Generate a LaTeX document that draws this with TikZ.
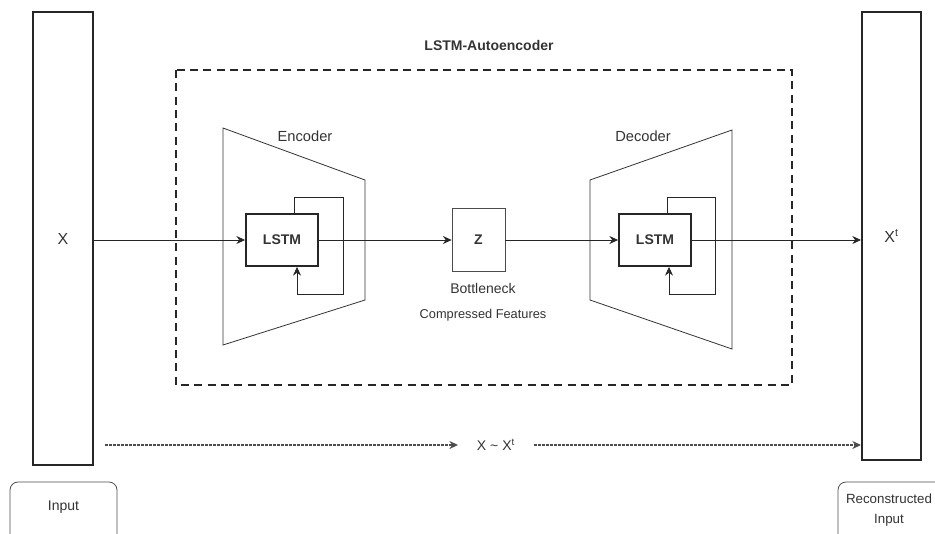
\documentclass[tikz,border=0pt]{standalone}
\usepackage{fontspec}
\setmainfont{Liberation Sans}
\usetikzlibrary{arrows.meta}
\definecolor{txtgray}{HTML}{333333}

\begin{document}
\begin{tikzpicture}[x=0.75pt, y=-0.75pt,
		every node/.style={text=txtgray, font=\fontsize{10.5}{12}\selectfont},
		column/.style={draw=black!85, line width=1.5pt, inner sep=0pt, font=\fontsize{12}{14}\selectfont},
		cell/.style={draw=black!85, line width=1.4pt, inner sep=0pt, minimum width=54pt, minimum height=39pt, font=\bfseries\fontsize{10.5}{12}\selectfont},
		arr/.style={-{Stealth[length=6.5pt,width=6pt]}, line width=0.6pt, draw=black!85},
		dotarr/.style={-{Stealth[length=6.5pt,width=6pt]}, draw=black!70, line width=1pt, dash pattern=on 2pt off 1pt}]
		\useasboundingbox (0,0) rectangle (935,533);
		\node[column, minimum width=45pt, minimum height=339.75pt] (inp) at (63,238.5) {X};
		\node[column, minimum width=44.25pt, minimum height=336pt] (out) at (891.5,236) {X\textsuperscript{t}};
		\node[font=\bfseries\fontsize{10.5}{12}\selectfont] (title) at (489,45) {LSTM-Autoencoder};
		\draw [line width=1.6pt, draw=black!85, dash pattern=on 6pt off 4pt] (176,70) rectangle (792,385);
		\draw [line width=0.6pt, draw=black!80] (223,128) -- (365,180) -- (365,300) -- (223,345) -- cycle;
		\draw [line width=0.6pt, draw=black!80] (590,180) -- (732,130) -- (732,349) -- (590,300) -- cycle;
		\node[font=\fontsize{11}{13}\selectfont] (enclab) at (305,136) {Encoder};
		\node[font=\fontsize{11}{13}\selectfont] (declab) at (643,136) {Decoder};
		\node[cell] (enc) at (282,240) {LSTM};
		\node[cell] (dec) at (655,240) {LSTM};
		\node[draw=black!70, line width=0.6pt, minimum width=39.75pt, minimum height=47.25pt, font=\bfseries\fontsize{10.5}{12}\selectfont] (z) at (478.5,239.5) {Z};
		\node (bneck) at (483,288) {Bottleneck};
		\node[font=\fontsize{9.6}{11}\selectfont] (feat) at (483,315) {Compressed Features};
		\draw [arr] (enc.west -| inp.east) -- (enc.west);
		\draw [arr] (enc.east) -- (z.west |- enc.east);
		\draw [arr] (z.east |- dec.west) -- (dec.west);
		\draw [arr] (dec.east) -- (out.west |- dec.east);
		\draw [arr] ([xshift=9pt]enc.north) |- ([xshift=18pt,yshift=12pt]enc.north east) |- ([xshift=11.25pt,yshift=-20.25pt]enc.south) -- ([xshift=11.25pt]enc.south);
		\draw [arr] ([xshift=9pt]dec.north) |- ([xshift=17.25pt,yshift=12pt]dec.north east) |- ([xshift=10.5pt,yshift=-20.25pt]dec.south) -- ([xshift=10.5pt]dec.south);
		\coordinate (dstart) at (105,445);
		\node[inner xsep=14pt] (sim) at (496,445) {X \textasciitilde{} X\textsuperscript{t}};
		\draw [dotarr] (dstart) -- (sim.west);
		\draw [dotarr] (sim.east) -- (sim -| out.west);
		\draw [line width=0.6pt, draw=black!70, rounded corners=6pt] (10,482) rectangle (117,570);
		\draw [line width=0.6pt, draw=black!70, rounded corners=6pt] (838,482) rectangle (980,570);
		\node[font=\fontsize{10.5}{12}\selectfont] (inlab) at (63.5,507) {Input};
		\node[align=center, font=\fontsize{10}{15}\selectfont] (outlab) at (889,510) {Reconstructed\\Input};
	\end{tikzpicture}
\end{document}
